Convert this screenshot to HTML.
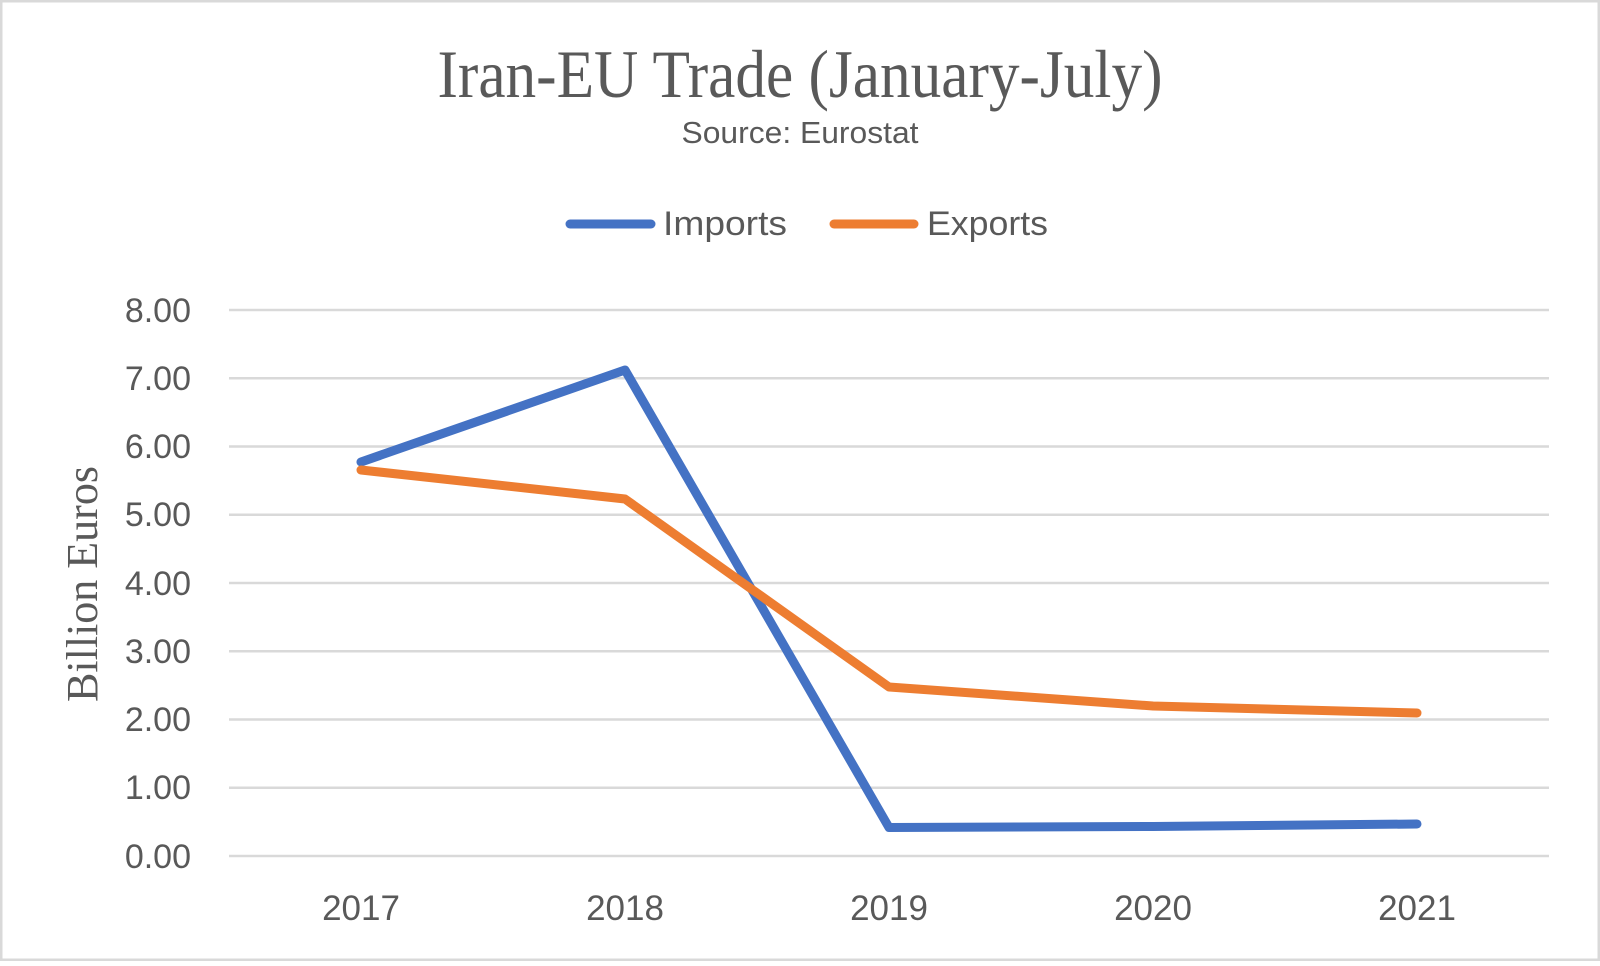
<!DOCTYPE html>
<html><head><meta charset="utf-8"><style>
html,body{margin:0;padding:0;background:#fff;}
</style></head><body>
<svg width="1600" height="961" xmlns="http://www.w3.org/2000/svg">
<rect x="1" y="1" width="1598" height="959" fill="#fff" stroke="#d9d9d9" stroke-width="3"/>
<text x="800" y="97" text-anchor="middle" font-family="Liberation Serif, serif" font-size="68" fill="#595959" textLength="725" lengthAdjust="spacingAndGlyphs">Iran-EU Trade (January-July)</text>
<text x="800" y="143" text-anchor="middle" font-family="Liberation Sans, sans-serif" font-size="31" fill="#595959" textLength="237" lengthAdjust="spacingAndGlyphs">Source: Eurostat</text>
<line x1="570" y1="224" x2="651" y2="224" stroke="#4472c4" stroke-width="9" stroke-linecap="round"/>
<text x="663" y="235" font-family="Liberation Sans, sans-serif" font-size="34" fill="#595959" textLength="124" lengthAdjust="spacingAndGlyphs">Imports</text>
<line x1="834" y1="224" x2="914" y2="224" stroke="#ed7d31" stroke-width="9" stroke-linecap="round"/>
<text x="927" y="235" font-family="Liberation Sans, sans-serif" font-size="34" fill="#595959" textLength="121" lengthAdjust="spacingAndGlyphs">Exports</text>
<g stroke="#d9d9d9" stroke-width="2.5">
<line x1="229" y1="310" x2="1549" y2="310"/>
<line x1="229" y1="378.25" x2="1549" y2="378.25"/>
<line x1="229" y1="446.5" x2="1549" y2="446.5"/>
<line x1="229" y1="514.75" x2="1549" y2="514.75"/>
<line x1="229" y1="583" x2="1549" y2="583"/>
<line x1="229" y1="651.25" x2="1549" y2="651.25"/>
<line x1="229" y1="719.5" x2="1549" y2="719.5"/>
<line x1="229" y1="787.75" x2="1549" y2="787.75"/>
<line x1="229" y1="856" x2="1549" y2="856"/>
</g>
<g font-family="Liberation Sans, sans-serif" font-size="34" fill="#595959" text-anchor="end">
<text x="191" y="322">8.00</text>
<text x="191" y="390">7.00</text>
<text x="191" y="458">6.00</text>
<text x="191" y="526">5.00</text>
<text x="191" y="595">4.00</text>
<text x="191" y="663">3.00</text>
<text x="191" y="731">2.00</text>
<text x="191" y="799">1.00</text>
<text x="191" y="868">0.00</text>
</g>
<g font-family="Liberation Sans, sans-serif" font-size="35" fill="#595959" text-anchor="middle">
<text x="361" y="920">2017</text>
<text x="625" y="920">2018</text>
<text x="889" y="920">2019</text>
<text x="1153" y="920">2020</text>
<text x="1417" y="920">2021</text>
</g>
<text transform="translate(97,584) rotate(-90)" text-anchor="middle" font-family="Liberation Serif, serif" font-size="44" fill="#595959">Billion Euros</text>
<polyline fill="none" stroke="#4472c4" stroke-width="9" stroke-linecap="round" stroke-linejoin="round" points="361,462 625,370 889,827.5 1153,826.5 1417,824"/>
<polyline fill="none" stroke="#ed7d31" stroke-width="9" stroke-linecap="round" stroke-linejoin="round" points="361,470 625,499 889,687 1153,706 1417,713"/>
</svg>
</body></html>
